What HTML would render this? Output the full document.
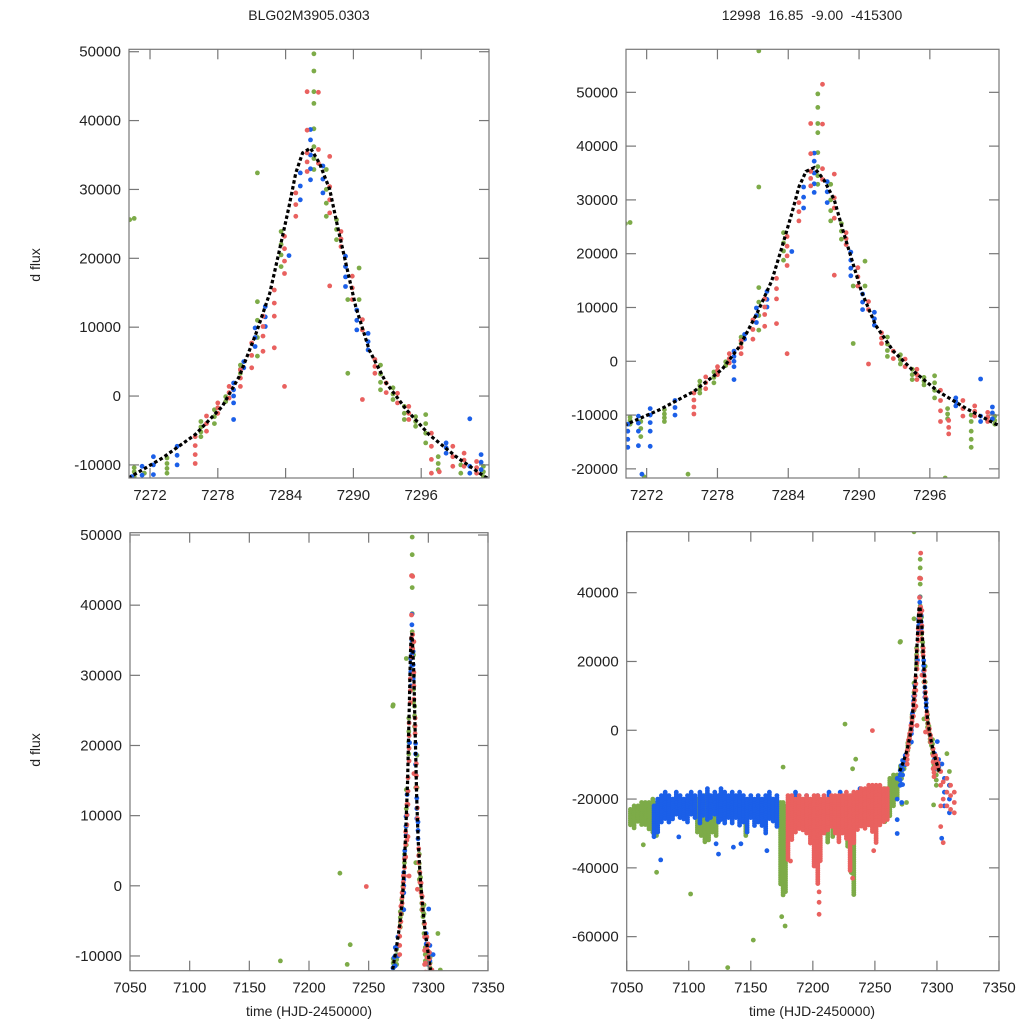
<!DOCTYPE html>
<html><head><meta charset="utf-8"><style>
html,body{margin:0;padding:0;background:#fff;}
svg{display:block;font-family:"Liberation Sans",Arial,sans-serif;}
</style></head><body>
<svg id="chart" width="1024" height="1024" viewBox="0 0 1024 1024" xmlns="http://www.w3.org/2000/svg">
<rect width="1024" height="1024" fill="#fff"/>
<text x="309" y="20" font-size="14" text-anchor="middle" fill="#222">BLG02M3905.0303</text>
<text x="812" y="20" font-size="14" text-anchor="middle" fill="#222" xml:space="preserve">12998  16.85  -9.00  -415300</text>
<text transform="translate(40,265) rotate(-90)" font-size="14" text-anchor="middle" fill="#222">d flux</text>
<text transform="translate(40,750) rotate(-90)" font-size="14" text-anchor="middle" fill="#222">d flux</text>
<text x="309" y="1016" font-size="14" text-anchor="middle" fill="#222">time (HJD-2450000)</text>
<text x="812" y="1016" font-size="14" text-anchor="middle" fill="#222">time (HJD-2450000)</text>
</svg>
<script>
// ---- data (flux in thousands) ----
const greenGroups = [
 [7270.6,25.8,-10.4,-11.0,-11.7],[7271.5,-11.2,-12.5,-14],[7271.8,-21.5],[7273.5,-9.0,-9.8,-10.5,-11.2],
 [7275.5,-21],[7276.5,-3.7,-4.5,-5.2,-5.9],[7277.7,-2.0,-3.0,-4.0],[7278.7,-0.1,-0.8],[7280,4.5,3.9,3.3],
 [7281.5,57.7,32.4,13.7,11,8.5,5.8],[7283.6,23.9,22,20.5,18.8],[7286.5,49.7,47.2,44.2,42.5,38.8,36.2,34.5,32.9],
 [7287.6,32.9,30,28,26.1],[7288.5,25.6,24.2,22.7],[7289.5,14,3.3],[7290.5,18.6,14],[7292.4,4.5,3.2,2,0.9],
 [7293.5,1.2,0.3,-0.5],[7294.5,-1.5,-2.5,-3.4],[7295.5,-3,-3.7,-4.4],[7296.4,-2.7,-4.0,-5.4,-6.8],[7297.3,-21.7],
 [7297.5,-8.8,-9.8,-10.7],[7299.5,-10,-11.2,-13,-14.5,-16],[7301.5,-10.2,-11,-11.7],
 [7063.4,-33.3],[7074.1,-41.3],[7101.5,-47.6],[7131.4,-69],[7152,-61],[7174.9,-54.2],[7177.6,-56.9],
 [7176,-10.7],[7225.9,1.8],[7232,-11.2],[7234.5,-8.4],[7308,-6.8],[7270.2,25.6],[7310,-12,-16]
];
const blueGroups = [
 [7270.4,-11.7,-13,-14.5,-16],[7271.3,-10.2,-11.5,-13,-15.7],[7271.6,-21],[7272.3,-8.8,-10,-11.4,-13,-15.8],
 [7274.4,-7.3,-8.6,-10.0],[7279.4,1.9,0.9,0,-1.0,-3.4],[7280.3,5.0,4.1],[7281.3,9.9,8.5,7.2],[7282.2,13.0,11.5,10.1],
 [7284.3,20.4],[7285.3,32.4,30.5,28.5],[7286.2,38.7,37.2,35,33,31.4],[7287.3,33.4,31.5,29.5],
 [7289.3,20.3,18.8,17.3,15.9],[7290.3,12.5,11,9.6],[7291.3,9.1,7.9,6.7],[7298.2,-6.8,-7.5,-8.3],
 [7300.3,-3.3,-10.2,-11.2],[7301.3,-8.5,-9.6,-10.7],[7303.8,-31.4],[7304,-9.8],[7077.4,-37.7],
 [7306,-14,-18,-22],[7310,-16,-20,-24],[7092,-31],[7122,-33],[7124,-36],[7136,-34],[7142,-33],[7163,-35],[7268,-14,-20,-26,-30]
];
const redGroups = [
 [7276,-5.9,-7.2,-8.5,-9.8],[7277,-2.9,-4,-5.1],[7278,-1.0,-1.7,-2.5],[7279,1.4,0.5,-0.3],[7280,3.8,2.6,1.4],
 [7281,7.7,5.9,4.1],[7282,11.6,10.1,8.7,6.5],[7283,15.4,13.5,11.6,7],[7283.9,23.2,21.4,19.6,17.8,1.4],
 [7284.9,29.5,27.8,26.1],[7285.9,44.2,38.6,35.3,34,32.6],[7286.9,51.5,44.1,35.8,33.8],[7287.9,34.8,30.4,28.5,26.6,16.0],
 [7288.9,23.9,22.8,21.7],[7289.9,17.4,15.7,14.0],[7290.8,11.1,9.6,-0.5],[7291.9,5.3,4.3,3.3],[7292.9,1.9,0.5],
 [7293.9,0.4,-1.0],[7294.9,-1.5,-2.5,-3.4],[7296.9,-5.4,-7.3,-9.2,-11.2],[7297.6,-11,-12.3,-13.5],
 [7298.8,-7.3,-8.8,-10.2],[7299.8,-8.3,-9.3,-10.2],[7300.9,-9.5,-10.4,-11.2],[7248,-0.1],
 [7303,-12,-16,-22,-28],[7305,-15,-20,-32.7],[7308,-14,-18,-22],[7311,-16,-19,-23],[7314,-18,-21,-24],
 [7205,-47,-50,-53.5],[7182,-38],[7232,-43],[7249,-35]
];
// dense nightly bands: time, top, bottom (thousands)
const greenBandT  = [7053,7056,7059,7062,7065,7068,7071,7074,7107,7110,7113,7116,7119,7122,7146,7174,7176,7178,7212,7216,7222,7228,7231,7233,7258,7262,7265,7268];
const greenBandHi = [-23,-22,-22,-21,-21,-21,-20,-21,-20,-21,-19,-21,-20,-21,-21,-21,-21,-22,-21,-20,-20,-19,-19,-19,-17,-14,-13,-13];
const greenBandLo = [-28,-29,-27,-28,-28,-29,-30,-31,-30,-31,-33,-32,-30,-31,-31,-45,-48,-47,-33,-31,-30,-34,-42,-48,-27,-25,-22,-20];
const blueBandT  = [7072,7075,7078,7081,7084,7087,7090,7093,7096,7099,7102,7105,7109,7111.5,7115,7117.5,7121,7124,7126,7129,7132,7135,7138,7141,7144,7147,7150,7153,7156,7159,7162,7165,7168,7171,7186,7195,7204,7213,7222,7238,7247,7253];
const blueBandHi = [-22,-20,-19,-18,-19,-20,-18,-19,-20,-19,-18,-19,-18,-19,-17,-19,-18,-19,-17,-18,-19,-18,-19,-18,-19,-20,-19,-20,-19,-20,-19,-18,-20,-19,-18,-19,-19,-18,-18,-17,-17,-17];
const blueBandLo = [-31,-30,-27,-26,-27,-26,-25,-26,-26,-27,-25,-26,-27,-25,-26,-26,-25,-27,-26,-27,-26,-27,-26,-28,-27,-30,-26,-28,-27,-28,-30,-26,-27,-28,-27,-28,-30,-27,-28,-26,-27,-26];
const redBandT  = [7180,7183,7186,7189,7192,7195,7198,7201,7204,7206,7209,7212,7215,7218,7221,7224,7227,7230,7233,7236,7239,7242,7245,7248,7251,7254,7257,7260];
const redBandHi = [-19,-19,-20,-19,-20,-19,-20,-19,-19,-20,-19,-20,-19,-19,-19,-19,-18,-19,-18,-18,-17,-17,-16,-16,-16,-16,-17,-17];
const redBandLo = [-38,-32,-30,-29,-29,-30,-33,-40,-45,-38,-30,-29,-28,-30,-33,-30,-32,-41,-33,-29,-28,-29,-28,-30,-33,-28,-27,-26];
// model curve
const modelT = [7270.1,7273.1,7276,7278.4,7279.9,7281.4,7282.6,7283.4,7284.3,7284.9,7285.5,7286.2,7287,7287.9,7288.6,7289.4,7290.2,7291.4,7292.9,7294.7,7296.7,7299.1,7301.6,7302];
const modelF = [-11.9,-9.0,-5.6,-1.5,2.85,9.15,14.95,20.75,27.5,32.4,35.3,36.0,33.8,30.0,24.6,18.8,13.0,6.7,1.9,-2.0,-5.6,-8.8,-11.7,-12.0];
const xTicksZoom = [7272,7278,7284,7290,7296];
const xTicksWide = [7050,7100,7150,7200,7250,7300,7350];
const yTicksA = [-10000,0,10000,20000,30000,40000,50000];
const yTicksB = [-20000,-10000,0,10000,20000,30000,40000,50000];
const yTicksC = [-60000,-40000,-20000,0,20000,40000];

const COLORS = {green:'#7dab48', blue:'#1b5fe8', red:'#e9615f'};
const panels = [
 {name:'top-left', L:129,T:49.3,R:489,B:478, x0:7270.14,x1:7302, y0:-11900,y1:50350, xt:xTicksZoom, yt:yTicksA},
 {name:'top-right',L:626,T:49.3,R:999,B:478, x0:7270.25,x1:7301.86,y0:-21700,y1:58000, xt:xTicksZoom, yt:yTicksB},
 {name:'bottom-left',L:130,T:532.7,R:488,B:970.7, x0:7050,x1:7350, y0:-12100,y1:50330, xt:xTicksWide, yt:yTicksA},
 {name:'bottom-right',L:626.7,T:531.7,R:999,B:970.7, x0:7050,x1:7350, y0:-69900,y1:57730, xt:xTicksWide, yt:yTicksC}
];
const NS='http://www.w3.org/2000/svg';
const svg=document.getElementById('chart');
function mk(tag,attrs,parent){const e=document.createElementNS(NS,tag);for(const k in attrs)e.setAttribute(k,attrs[k]);(parent||svg).appendChild(e);return e;}

panels.forEach((p,i)=>{
  const xs=t=>p.L+(t-p.x0)/(p.x1-p.x0)*(p.R-p.L);
  const ys=f=>p.B-(f-p.y0)/(p.y1-p.y0)*(p.B-p.T);
  const cp=mk('clipPath',{id:'clip'+i});
  mk('rect',{x:p.L,y:p.T,width:p.R-p.L,height:p.B-p.T},cp);
  const g=mk('g',{'clip-path':'url(#clip'+i+')'});
  
  
  function dot(t,fk,color,nm){
    const x=xs(t), y=ys(fk*1000);
    if(x<p.L-3||x>p.R+3||y<p.T-3||y>p.B+3) return;
    const c=mk('circle',{cx:x.toFixed(1),cy:y.toFixed(1),r:2.4,fill:color},g);
    
    
  }
  function bands(T,Hi,Lo,color,nm){
    const pxPerK=(p.B-p.T)/((p.y1-p.y0)/1000);
    const step=Math.max(0.3,2.2/pxPerK);
    T.forEach((t,j)=>{for(let f=Hi[j];f>=Lo[j];f-=step) dot(t,f,color,nm);});
  }
  function groups(G,color,nm){G.forEach(gr=>{for(let k=1;k<gr.length;k++) dot(gr[0],gr[k],color,nm);});}
  bands(greenBandT,greenBandHi,greenBandLo,COLORS.green,'green-point');
  groups(greenGroups,COLORS.green,'green-point');
  bands(blueBandT,blueBandHi,blueBandLo,COLORS.blue,'blue-point');
  groups(blueGroups,COLORS.blue,'blue-point');
  bands(redBandT,redBandHi,redBandLo,COLORS.red,'red-point');
  groups(redGroups,COLORS.red,'red-point');
  const d=modelT.map((t,j)=>(j?'L':'M')+xs(t).toFixed(1)+','+ys(modelF[j]*1000).toFixed(1)).join(' ');
  const m=mk('path',{d:d,fill:'none',stroke:'#000','stroke-width':3.2,'stroke-dasharray':'3.5,2.5'},g);
  
  
  const fr=mk('rect',{x:p.L,y:p.T,width:p.R-p.L,height:p.B-p.T,fill:'none',stroke:'#777','stroke-width':1.2});
  
  
  p.xt.forEach(t=>{
    const x=xs(t);
    mk('line',{x1:x,y1:p.B,x2:x,y2:p.B-10,stroke:'#777','stroke-width':1.2});
    mk('line',{x1:x,y1:p.T,x2:x,y2:p.T+10,stroke:'#777','stroke-width':1.2});
    const tx=mk('text',{x:x,y:p.B+22,'font-size':15,'text-anchor':'middle',fill:'#222'});
    tx.textContent=t;
    
    
  });
  p.yt.forEach(f=>{
    const y=ys(f);
    mk('line',{x1:p.L,y1:y,x2:p.L+10,y2:y,stroke:'#777','stroke-width':1.2});
    mk('line',{x1:p.R,y1:y,x2:p.R-10,y2:y,stroke:'#777','stroke-width':1.2});
    const tx=mk('text',{x:p.L-8,y:y+5,'font-size':15,'text-anchor':'end',fill:'#222'});
    tx.textContent=f;
    
    
  });
});
</script>
</body></html>
